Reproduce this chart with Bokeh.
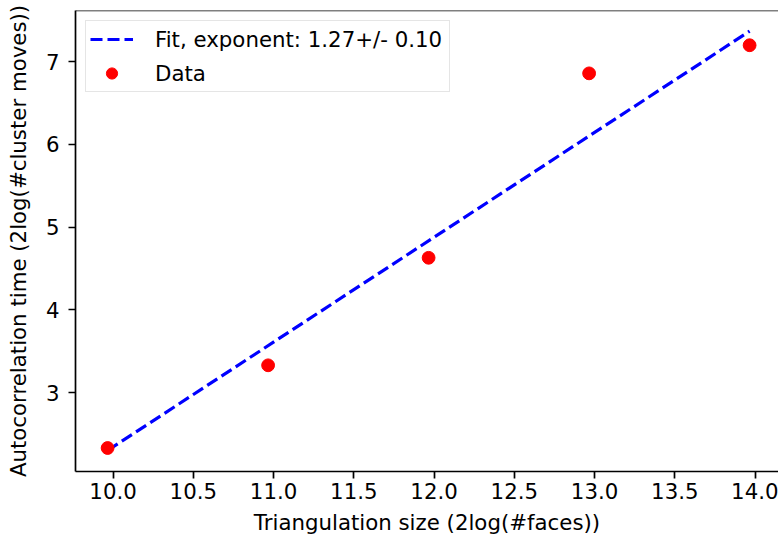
from bokeh.plotting import figure
from bokeh.models import Range1d, FixedTicker, PrintfTickFormatter, Span, Legend, LegendItem
from bokeh.embed import file_html
from bokeh.resources import INLINE

# ---- data ----
size_log = [9.966, 10.966, 11.966, 12.966, 13.966]      # 2log(#faces)
autocorr_log = [2.33, 3.33, 4.63, 6.86, 7.20]           # 2log(#cluster moves)
fit_x = [9.966, 13.966]
fit_y = [2.30, 7.37]
fit_label = "Fit, exponent: 1.27+/- 0.10"
data_label = "Data"
x_ticks = [10.0, 10.5, 11.0, 11.5, 12.0, 12.5, 13.0, 13.5, 14.0]
y_ticks = [3, 4, 5, 6, 7]
x_title = "Triangulation size (2log(#faces))"
y_title = "Autocorrelation time (2log(#cluster moves))"

X_LO, X_HI = 9.766, 14.146
Y_LO, Y_HI = 2.046, 7.62

FONT = "DejaVu Sans"
FS = "21.3px"

p = figure(width=778, height=540, output_backend="svg", toolbar_location=None,
           x_range=Range1d(X_LO, X_HI), y_range=Range1d(Y_LO, Y_HI),
           min_border_left=75, min_border_right=0, min_border_top=10, min_border_bottom=69)
p.outline_line_color = None
p.xgrid.visible = False
p.ygrid.visible = False
p.background_fill_color = "white"
p.border_fill_color = "white"

fit_r = p.line(fit_x, fit_y, line_color="blue", line_width=3.2, line_dash="12 5")
dat_r = p.scatter(size_log, autocorr_log, size=12.8, fill_color="red", line_color="red")

top = Span(location=Y_HI, dimension="width", line_color="black", line_width=1.7)
p.add_layout(top)

for ax in (p.xaxis[0], p.yaxis[0]):
    ax.axis_line_color = "black"
    ax.axis_line_width = 1.7
    ax.major_tick_line_color = "black"
    ax.major_tick_line_width = 1.7
    ax.major_tick_out = 7
    ax.major_tick_in = 0
    ax.minor_tick_line_color = None
    ax.major_label_text_font = FONT
    ax.major_label_text_font_size = FS
    ax.major_label_text_color = "black"
    ax.axis_label_text_font = FONT
    ax.axis_label_text_font_size = FS
    ax.axis_label_text_font_style = "normal"
    ax.axis_label_text_color = "black"

p.xaxis[0].ticker = FixedTicker(ticks=x_ticks)
p.xaxis[0].formatter = PrintfTickFormatter(format="%.1f")
p.xaxis[0].axis_label = x_title
p.xaxis[0].major_label_standoff = 4
p.xaxis[0].axis_label_standoff = 8

p.yaxis[0].ticker = FixedTicker(ticks=y_ticks)
p.yaxis[0].axis_label = y_title
p.yaxis[0].major_label_standoff = 9
p.yaxis[0].axis_label_standoff = 12

legend = Legend(items=[LegendItem(label=fit_label, renderers=[fit_r]),
                       LegendItem(label=data_label, renderers=[dat_r])],
                location="top_left")
legend.margin = 10
legend.padding = 4
legend.spacing = 6
legend.glyph_width = 43
legend.glyph_height = 28
legend.label_height = 24
legend.label_width = 290
legend.label_standoff = 22
legend.label_text_font = FONT
legend.label_text_font_size = FS
legend.label_text_color = "black"
legend.border_line_color = "#cccccc"
legend.border_line_width = 1.2
legend.background_fill_color = "white"
legend.background_fill_alpha = 0.8
p.add_layout(legend)

open("out.html", "w").write(file_html(p, INLINE))
